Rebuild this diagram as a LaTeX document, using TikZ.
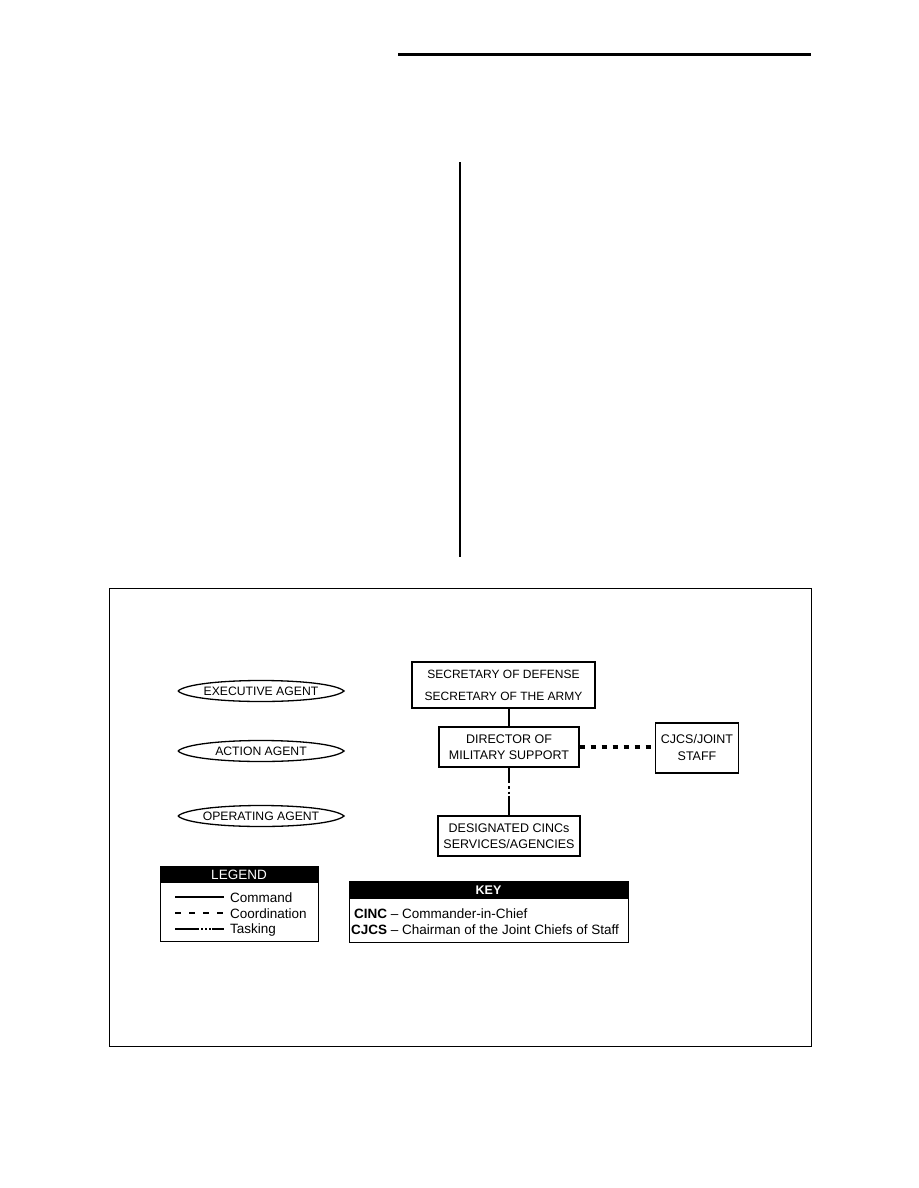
\documentclass[tikz,border=0pt]{standalone}
\usepackage{fontspec}
\setmainfont{Liberation Sans}
\begin{document}
\begin{tikzpicture}[x=1pt,y=-1pt,
  box/.style={draw,line width=1.3pt,inner sep=0pt,align=center},
  lbl/.style={inner sep=0pt,font=\fontsize{13.5}{15}\selectfont},
  agent/.style={inner sep=0pt,font=\fontsize{12.2}{14}\selectfont},
  cmd/.style={line width=2.8pt},
  coord/.style={line width=3.5pt,dash pattern=on 5pt off 6pt},
  lens/.style={line width=1.3pt}]
\useasboundingbox (0,0) rectangle (918,1188);
% page rules
\coordinate (ta) at (398,55); \coordinate (tb) at (811,55);
\draw[line width=3pt] (ta) -- (tb);
\coordinate (va) at (460,162); \coordinate (vb) at (460,557);
\draw[line width=2.5pt] (va) -- (vb);
% frame
\draw[line width=1pt] (109,588) rectangle (811,1046);
% agents
\foreach \y/\n/\t in {691/exec/EXECUTIVE AGENT,751/act/ACTION AGENT,816/oper/OPERATING AGENT}{
  \draw[lens] (178,\y) .. controls (193,\y-14) and (329,\y-14) .. (344,\y) .. controls (329,\y+14) and (193,\y+14) .. (178,\y);
  \node[agent] (\n) at (261,\y) {\t};
}
% boxes
\node[box,minimum width=183pt,minimum height=46pt,font=\fontsize{12}{22}\selectfont] (sec) at (503.5,685) {SECRETARY OF DEFENSE\\SECRETARY OF THE ARMY};
\node[box,minimum width=140pt,minimum height=40pt,font=\fontsize{12.5}{16}\selectfont] (dir) at (509,747) {DIRECTOR OF\\MILITARY SUPPORT};
\node[box,minimum width=83pt,minimum height=50pt,font=\fontsize{12.5}{17}\selectfont] (cjcs) at (697,748) {CJCS/JOINT\\STAFF};
\node[box,minimum width=142pt,minimum height=40pt,font=\fontsize{12.5}{16}\selectfont] (des) at (509,836) {DESIGNATED CINCs\\SERVICES/AGENCIES};
% connectors
\draw[cmd] (dir.north |- sec.south) -- (dir.north);
\draw[coord] (dir.east) -- (cjcs.west |- dir.east);
\path (dir.south) ++(0,13) coordinate (t1) ++(0,15) coordinate (t2);
\draw[cmd] (dir.south) -- (t1);
\draw[line width=2.8pt,dash pattern=on 2.5pt off 3pt] (t1) -- (t2);
\draw[cmd] (t2) -- (des.north);
% legend
\draw[line width=1pt] (160,866) rectangle (318,941);
\fill (160,866) rectangle (318,883);
\node[lbl,text=white] (legend) at (239,875) {LEGEND};
\node[lbl,anchor=west] (lc) at (230,897.5) {Command};
\node[lbl,anchor=west] (lo) at (230,913.5) {Coordination};
\node[lbl,anchor=west] (lt) at (230,929.5) {Tasking};
\draw[line width=1.8pt] (175,897) -- (224,897);
\draw[line width=1.8pt,dash pattern=on 6pt off 8pt] (175,913) -- (224,913);
\draw[line width=1.3pt] (175,929) -- (199,929);
\draw[line width=1.3pt,dash pattern=on 1.5pt off 2.5pt] (201,929) -- (211,929);
\draw[line width=1.3pt] (212,929) -- (224,929);
% key
\draw[line width=1pt] (349,881) rectangle (628,942);
\fill (349,881) rectangle (628,899);
\node[lbl,text=white,font=\fontsize{12.5}{14}\bfseries] (key) at (488.5,890) {KEY};
\node[lbl,anchor=west] (k1) at (354,913.5) {\textbf{CINC} -- Commander-in-Chief};
\node[lbl,anchor=west] (k2) at (351,930) {\textbf{CJCS} -- Chairman of the Joint Chiefs of Staff};
\end{tikzpicture}
\end{document}
